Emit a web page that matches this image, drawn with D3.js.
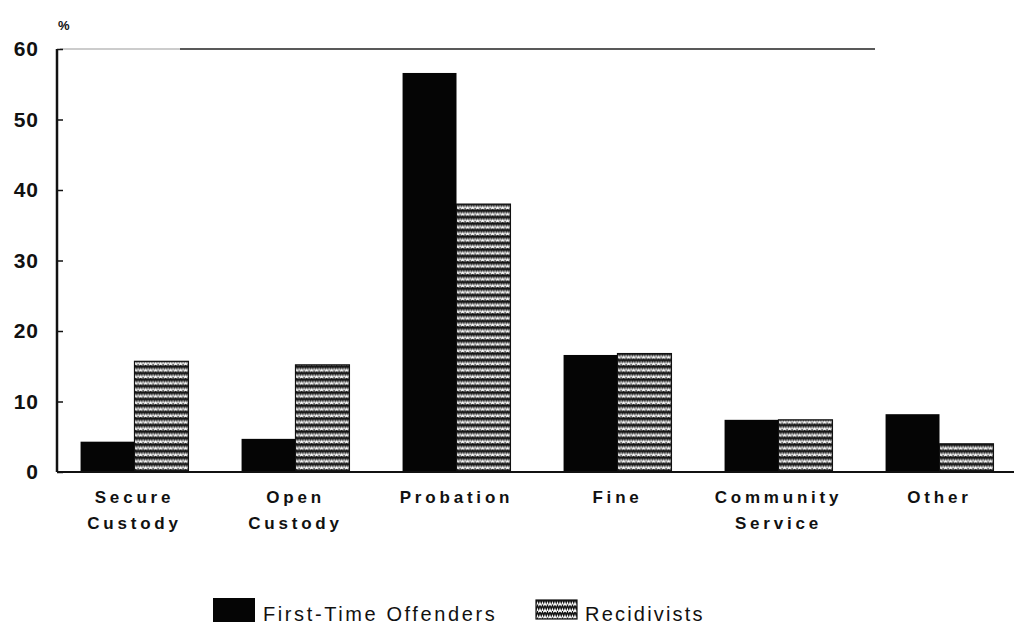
<!DOCTYPE html>
<html>
<head>
<meta charset="utf-8">
<script src="https://cdn.jsdelivr.net/npm/d3@7"></script>
<style>
  body { margin: 0; background: #fff; }
  text { font-family: "Liberation Sans", Arial, sans-serif; fill: #111; }
</style>
</head>
<body>
<svg id="chart" width="1014" height="629"></svg>
<script>
// datos
var categories = ['Secure|Custody', 'Open|Custody', 'Probation', 'Fine', 'Community|Service', 'Other'];
var firstTime = [4.3, 4.7, 56.6, 16.6, 7.4, 8.2];
var recidivists = [15.7, 15.2, 38.0, 16.8, 7.4, 4.0];
var seriesNames = ['First-Time Offenders', 'Recidivists'];
var yTicks = [0, 10, 20, 30, 40, 50, 60];

var svg = d3.select('#chart');

// patron ondulado para reincidentes
var defs = svg.append('defs');
var pat = defs.append('pattern')
    .attr('id', 'wavy')
    .attr('patternUnits', 'userSpaceOnUse')
    .attr('width', 5).attr('height', 6.5);
pat.append('rect').attr('width', 5).attr('height', 6.5).attr('fill', '#fff');
pat.append('path')
    .attr('d', 'M0,1 L1.25,4.5 L2.5,1 L3.75,4.5 L5,1')
    .attr('fill', 'none').attr('stroke', '#111').attr('stroke-width', 1.4);

var x = d3.scaleBand().domain(categories).range([54, 1020]).paddingInner(0.33).paddingOuter(0.165);
var xs = d3.scaleBand().domain(seriesNames).range([0, x.bandwidth()]);
var y = d3.scaleLinear().domain([0, 60]).range([472, 49]);

// linea superior
svg.append('line').attr('x1', 60).attr('x2', 180).attr('y1', y(60)).attr('y2', y(60))
    .attr('stroke', '#999').attr('stroke-width', 1);
svg.append('line').attr('x1', 180).attr('x2', 875).attr('y1', y(60)).attr('y2', y(60))
    .attr('stroke', '#222').attr('stroke-width', 1.6);

// barras
var groups = svg.append('g').selectAll('g').data(categories).enter().append('g')
    .attr('transform', function (d) { return 'translate(' + x(d) + ',0)'; });

groups.append('rect')
    .attr('x', xs(seriesNames[0]))
    .attr('width', xs.bandwidth())
    .attr('y', function (d, i) { return y(firstTime[i]); })
    .attr('height', function (d, i) { return y(0) - y(firstTime[i]); })
    .attr('fill', '#050505');

groups.append('rect')
    .attr('x', xs(seriesNames[1]))
    .attr('width', xs.bandwidth())
    .attr('y', function (d, i) { return y(recidivists[i]); })
    .attr('height', function (d, i) { return y(0) - y(recidivists[i]); })
    .attr('fill', 'url(#wavy)')
    .attr('stroke', '#111').attr('stroke-width', 1.2);

// eje y
var axisY = d3.axisLeft(y).tickValues(yTicks).tickSize(6).tickPadding(12);
var gy = svg.append('g').attr('transform', 'translate(57,0)').call(axisY);
gy.select('.domain').attr('stroke', '#111').attr('stroke-width', 2.5).attr('d', 'M0,' + y(60) + 'V' + y(0));
gy.selectAll('.tick line').attr('stroke', '#111').attr('stroke-width', 1.5).attr('x2', 6);
gy.selectAll('.tick text').style('font-size', '21px').style('font-weight', 'bold')
    .style('letter-spacing', '1px').attr('fill', '#111');

svg.append('text').attr('x', 58).attr('y', 30).style('font-size', '13px').style('font-weight', 'bold').text('%');

// linea base
svg.append('line').attr('x1', 57).attr('x2', 1014).attr('y1', y(0)).attr('y2', y(0))
    .attr('stroke', '#111').attr('stroke-width', 2.2);

// etiquetas de categorias
var labels = svg.append('g').selectAll('text').data(categories).enter().append('text')
    .attr('x', function (d) { return x(d) + x.bandwidth() / 2; })
    .attr('y', 503)
    .attr('text-anchor', 'middle')
    .style('font-size', '17px').style('font-weight', 'bold').style('letter-spacing', '3.8px');
labels.each(function (d) {
    var t = d3.select(this);
    d.split('|').forEach(function (s, i) {
        t.append('tspan').attr('x', x(d) + x.bandwidth() / 2).attr('dy', i ? 26 : 0).text(s);
    });
});

// leyenda
var legend = svg.append('g');
legend.append('rect').attr('x', 213).attr('y', 598).attr('width', 42).attr('height', 24).attr('fill', '#050505');
legend.append('text').attr('x', 263).attr('y', 621).style('font-size', '20px').style('letter-spacing', '2.6px').text(seriesNames[0]);
legend.append('rect').attr('x', 536).attr('y', 600).attr('width', 41).attr('height', 19)
    .attr('fill', 'url(#wavy)').attr('stroke', '#111').attr('stroke-width', 1.2);
legend.append('text').attr('x', 585).attr('y', 621).style('font-size', '20px').style('letter-spacing', '2.2px').text(seriesNames[1]);
</script>
</body>
</html>
